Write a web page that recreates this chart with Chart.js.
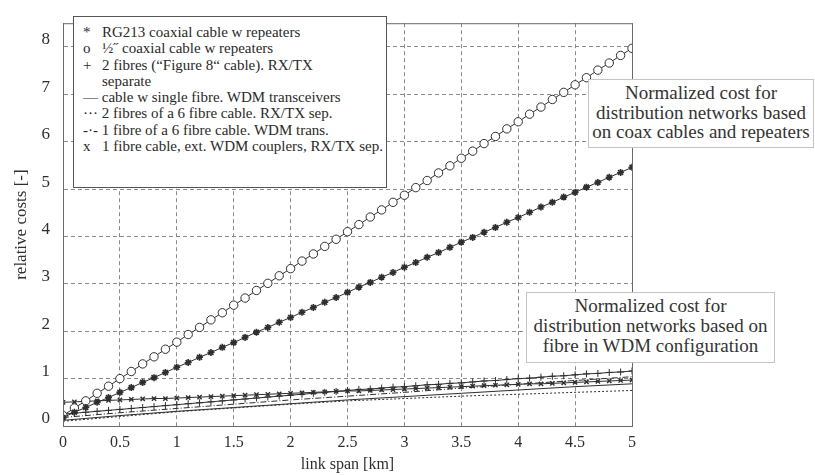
<!DOCTYPE html>
<html>
<head>
<meta charset="utf-8">
<script src="https://cdn.jsdelivr.net/npm/chart.js@4/dist/chart.umd.min.js"></script>
<style>
  html, body { margin: 0; padding: 0; background: #fff; }
  #wrap { position: relative; width: 815px; height: 475px; }
  #legend {
    position: absolute; left: 73px; top: 16px; width: 314px; height: 172px;
    box-sizing: border-box; border: 1px solid #555; background: #fff;
    font-family: "Liberation Serif", "DejaVu Serif", serif; font-size: 15px;
    line-height: 16.3px; padding: 7px 0 0 9px; color: #2a2a2a; white-space: nowrap;
  }
  #legend .m { display: inline-block; width: 19px; }
  #legend .ind { padding-left: 19px; }
  .note {
    position: absolute; box-sizing: border-box; background: #fff;
    border: 1px solid #c4c4c4; text-align: center; color: #333;
    font-family: "Liberation Serif", "DejaVu Serif", serif; font-size: 19px;
  }
  #note1 { left: 588px; top: 79px; width: 226px; height: 69px; line-height: 19.5px; padding-top: 3px; }
  #note2 { left: 526px; top: 292px; width: 249px; height: 71px; line-height: 20px; padding-top: 3px; }
</style>
</head>
<body>
<div id="wrap">
  <canvas id="c" width="815" height="475"></canvas>
  <div id="legend">
    <div><span class="m">*</span>RG213 coaxial cable w repeaters</div>
    <div><span class="m">o</span>½˝ coaxial cable w repeaters</div>
    <div><span class="m">+</span>2 fibres (“Figure 8“ cable). RX/TX</div>
    <div class="ind">separate</div>
    <div>— cable w single fibre. WDM transceivers</div>
    <div>··· 2 fibres of a 6 fibre cable. RX/TX sep.</div>
    <div>-·- 1 fibre of a 6 fibre cable. WDM trans.</div>
    <div><span class="m">x</span>1 fibre cable, ext. WDM couplers, RX/TX sep.</div>
  </div>
  <div class="note" id="note1">Normalized cost for<br>distribution networks based<br>on coax cables and repeaters</div>
  <div class="note" id="note2">Normalized cost for<br>distribution networks based on<br>fibre in WDM configuration</div>
</div>
<script>
// link span [km] sample points
const spanFine = [0,0.1,0.2,0.3,0.4,0.5,0.6,0.7,0.8,0.9,1.0,1.1,1.2,1.3,1.4,1.5,1.6,1.7,1.8,1.9,2.0,2.1,2.2,2.3,2.4,2.5,2.6,2.7,2.8,2.9,3.0,3.1,3.2,3.3,3.4,3.5,3.6,3.7,3.8,3.9,4.0,4.1,4.2,4.3,4.4,4.5,4.6,4.7,4.8,4.9,5.0];
const spanCoarse = [0,0.5,1.0,1.5,2.0,2.5,3.0,3.5,4.0,4.5,5.0];

// relative costs
const rg213 = [0.18,0.29,0.39,0.50,0.60,0.71,0.81,0.92,1.02,1.13,1.24,1.34,1.45,1.55,1.66,1.76,1.87,1.98,2.08,2.19,2.29,2.40,2.50,2.61,2.71,2.82,2.93,3.03,3.14,3.24,3.35,3.45,3.56,3.66,3.77,3.88,3.98,4.09,4.19,4.30,4.40,4.51,4.62,4.72,4.83,4.93,5.04,5.14,5.25,5.35,5.46];
const halfInch = [0.22,0.38,0.53,0.69,0.84,1.00,1.15,1.31,1.46,1.62,1.77,1.93,2.08,2.24,2.39,2.55,2.70,2.86,3.01,3.17,3.32,3.48,3.63,3.79,3.94,4.10,4.25,4.41,4.56,4.72,4.87,5.03,5.18,5.34,5.49,5.65,5.80,5.96,6.11,6.27,6.42,6.58,6.73,6.89,7.04,7.20,7.35,7.51,7.66,7.82,7.97];
const fig8 = [0.25,0.27,0.29,0.31,0.33,0.35,0.37,0.39,0.41,0.43,0.45,0.47,0.49,0.51,0.53,0.55,0.57,0.59,0.61,0.63,0.65,0.67,0.69,0.71,0.73,0.75,0.77,0.78,0.80,0.82,0.83,0.85,0.87,0.88,0.90,0.91,0.93,0.95,0.96,0.98,1.00,1.01,1.03,1.05,1.06,1.08,1.10,1.11,1.13,1.14,1.16];
const extCouplers = [0.50,0.51,0.52,0.53,0.54,0.55,0.56,0.57,0.58,0.58,0.59,0.60,0.61,0.62,0.63,0.64,0.65,0.66,0.67,0.68,0.69,0.70,0.71,0.72,0.73,0.74,0.74,0.75,0.76,0.77,0.78,0.79,0.80,0.81,0.82,0.83,0.84,0.85,0.86,0.87,0.88,0.89,0.89,0.90,0.91,0.92,0.93,0.94,0.95,0.96,0.97];
const singleFibreWdm = [0.12,0.22,0.31,0.39,0.47,0.55,0.62,0.69,0.76,0.83,0.89];
const twoOfSix = [0.10,0.20,0.30,0.38,0.46,0.53,0.58,0.63,0.67,0.71,0.75];
const oneOfSix = [0.18,0.28,0.37,0.46,0.55,0.63,0.71,0.80,0.88,0.96,1.04];

const xTickLabels = ['0','0.5','1','1.5','2','2.5','3','3.5','4','4.5','5'];
const yTicks = [0,1,2,3,4,5,6,7,8];

const ink = '#2e2e2e';
const pts = (xs, ys) => xs.map((x, i) => ({x: x, y: ys[i]}));

const framePlugin = {
  id: 'frame',
  afterDraw(chart) {
    const {ctx, chartArea: a} = chart;
    ctx.save();
    ctx.strokeStyle = '#6a6a6a';
    ctx.lineWidth = 1;
    ctx.strokeRect(a.left + 0.5, a.top + 0.5, a.right - a.left, a.bottom - a.top);
    ctx.restore();
  }
};

const serif = '"Liberation Serif", "DejaVu Serif", serif';

new Chart(document.getElementById('c'), {
  type: 'line',
  data: {
    datasets: [
      { label: 'RG213 coaxial cable w repeaters', data: pts(spanFine, rg213), borderColor: ink, backgroundColor: ink, borderWidth: 1, pointStyle: 'star', pointRadius: 3.5, pointBorderWidth: 1.6 },
      { label: '½˝ coaxial cable w repeaters', data: pts(spanFine, halfInch), borderColor: ink, backgroundColor: '#fff', borderWidth: 1, pointStyle: 'circle', pointRadius: 4.2, pointBorderWidth: 1 },
      { label: '2 fibres (“Figure 8“ cable). RX/TX separate', data: pts(spanFine, fig8), borderColor: ink, backgroundColor: ink, borderWidth: 1, pointStyle: 'cross', pointRadius: 3.5, pointBorderWidth: 1 },
      { label: 'cable w single fibre. WDM transceivers', data: pts(spanCoarse, singleFibreWdm), borderColor: ink, borderWidth: 1, pointRadius: 0 },
      { label: '2 fibres of a 6 fibre cable. RX/TX sep.', data: pts(spanCoarse, twoOfSix), borderColor: ink, borderWidth: 1, borderDash: [2, 2], pointRadius: 0 },
      { label: '1 fibre of a 6 fibre cable. WDM trans.', data: pts(spanCoarse, oneOfSix), borderColor: ink, borderWidth: 1, borderDash: [6, 2, 1, 2], pointRadius: 0 },
      { label: '1 fibre cable, ext. WDM couplers, RX/TX sep.', data: pts(spanFine, extCouplers), borderColor: ink, backgroundColor: ink, borderWidth: 1, pointStyle: 'crossRot', pointRadius: 3, pointBorderWidth: 1.4 }
    ]
  },
  options: {
    responsive: false,
    animation: false,
    layout: { padding: { left: 0, right: 183, top: 7, bottom: 0 } },
    plugins: { legend: { display: false }, tooltip: { enabled: false } },
    elements: { line: { tension: 0 } },
    scales: {
      x: {
        type: 'linear', min: 0, max: 5,
        ticks: { stepSize: 0.5, color: ink, padding: 7, font: { family: serif, size: 16 },
                 callback: (v, i) => xTickLabels[i] },
        grid: { color: '#8a8a8a', drawTicks: false },
        border: { display: true, color: '#6a6a6a', dash: [4, 3] },
        title: { display: true, text: 'link span [km]', color: ink, font: { family: serif, size: 16 }, padding: { top: 0, bottom: 1 } },
        afterFit(s) { s.height = 49; }
      },
      y: {
        type: 'linear', min: 0, max: 8.5,
        afterBuildTicks(s) { s.ticks = yTicks.map(v => ({ value: v })); },
        ticks: { color: ink, padding: 13, labelOffset: -7, font: { family: serif, size: 17 } },
        grid: { color: '#8a8a8a', drawTicks: false },
        border: { display: true, color: '#6a6a6a', dash: [4, 3] },
        title: { display: true, text: 'relative costs [-]', color: ink, font: { family: serif, size: 17 }, padding: { top: 11, bottom: 0 } },
        afterFit(s) { s.width = 63; }
      }
    }
  },
  plugins: [framePlugin]
});
</script>
</body>
</html>
